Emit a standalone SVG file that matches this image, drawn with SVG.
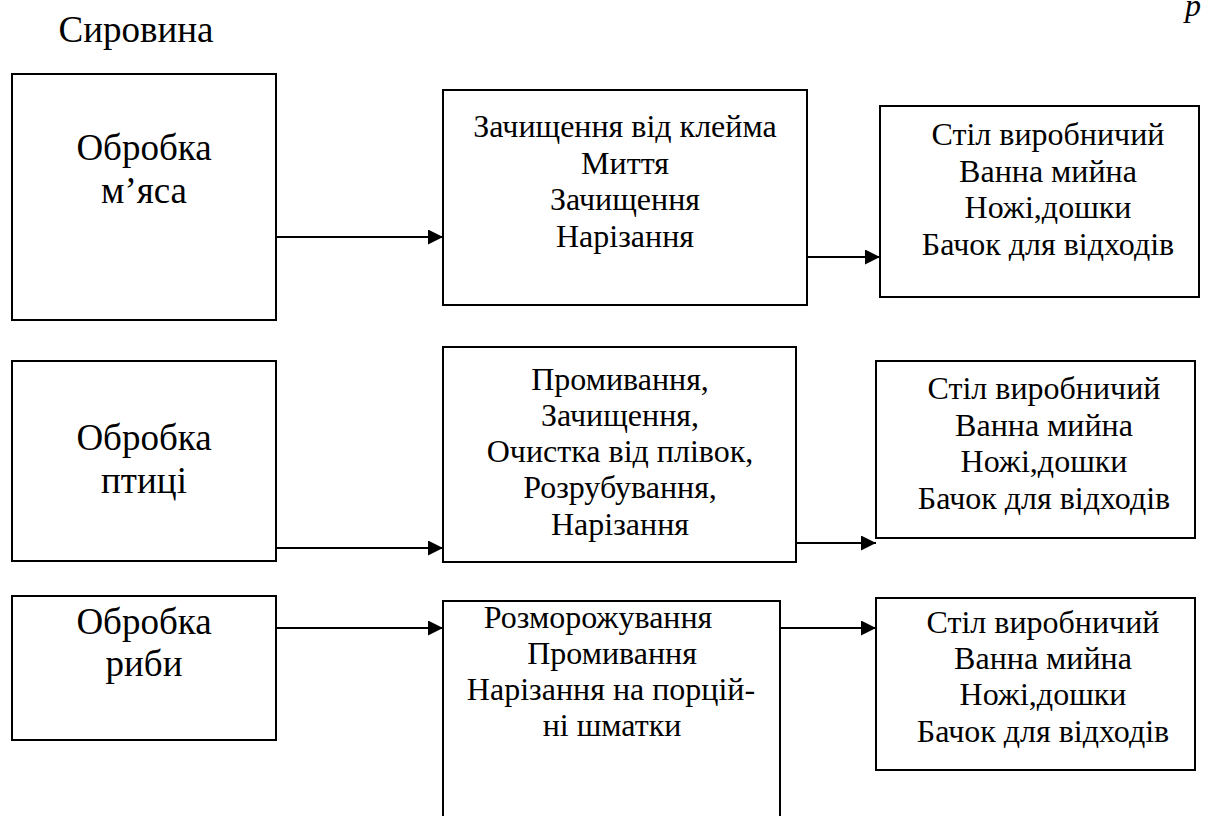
<svg xmlns="http://www.w3.org/2000/svg" width="1216" height="816" viewBox="0 0 1216 816">
  <style>
    .box { fill: #ffffff; stroke: #000000; stroke-width: 2; }
    .t { font-family: "Liberation Serif", "Times New Roman", serif; fill: #000000; text-anchor: middle; }
    .big { font-size: 37px; }
    .sm { font-size: 32px; }
    .wire { stroke: #000000; stroke-width: 2; fill: none; marker-end: url(#arrow); }
  </style>
  <defs>
    <marker id="arrow" markerUnits="userSpaceOnUse" markerWidth="15" markerHeight="15" refX="15" refY="7.5" orient="auto">
      <path d="M0,0 L15,7.5 L0,15 Z" fill="#000000"/>
    </marker>
  </defs>

  <rect width="1216" height="816" fill="#ffffff"/>

  <!-- page header fragment -->
  <text x="1193" y="16" class="t" font-size="32" font-style="italic">р</text>

  <!-- heading -->
  <text x="136" y="42" class="t big">Сировина</text>

  <!-- row 1: meat -->
  <g id="meat">
    <rect x="12" y="74" width="264" height="246" class="box"/>
    <text x="144" y="160" class="t big">Обробка</text>
    <text x="144" y="203" class="t big">м’яса</text>
  </g>
  <g id="meat-ops">
    <rect x="443" y="90" width="364" height="215" class="box"/>
    <text x="625" y="137" class="t sm">Зачищення від клейма</text>
    <text x="625" y="174" class="t sm">Миття</text>
    <text x="625" y="210" class="t sm">Зачищення</text>
    <text x="625" y="247" class="t sm">Нарізання</text>
  </g>
  <g id="meat-tools">
    <rect x="880" y="106" width="319" height="191" class="box"/>
    <text x="1048" y="145" class="t sm">Стіл виробничий</text>
    <text x="1048" y="182" class="t sm">Ванна мийна</text>
    <text x="1048" y="218" class="t sm">Ножі,дошки</text>
    <text x="1048" y="255" class="t sm">Бачок для відходів</text>
  </g>

  <!-- row 2: poultry -->
  <g id="poultry">
    <rect x="12" y="361" width="264" height="200" class="box"/>
    <text x="144" y="450" class="t big">Обробка</text>
    <text x="144" y="493" class="t big">птиці</text>
  </g>
  <g id="poultry-ops">
    <rect x="443" y="347" width="353" height="215" class="box"/>
    <text x="620" y="390" class="t sm">Промивання,</text>
    <text x="620" y="426" class="t sm">Зачищення,</text>
    <text x="620" y="462" class="t sm">Очистка від плівок,</text>
    <text x="620" y="498" class="t sm">Розрубування,</text>
    <text x="620" y="535" class="t sm">Нарізання</text>
  </g>
  <g id="poultry-tools">
    <rect x="876" y="361" width="319" height="177" class="box"/>
    <text x="1044" y="399" class="t sm">Стіл виробничий</text>
    <text x="1044" y="436" class="t sm">Ванна мийна</text>
    <text x="1044" y="472" class="t sm">Ножі,дошки</text>
    <text x="1044" y="509" class="t sm">Бачок для відходів</text>
  </g>

  <!-- row 3: fish -->
  <g id="fish">
    <rect x="12" y="596" width="264" height="144" class="box"/>
    <text x="144" y="634" class="t big">Обробка</text>
    <text x="144" y="676" class="t big">риби</text>
  </g>
  <g id="fish-ops">
    <rect x="443" y="601" width="337" height="240" class="box"/>
    <text x="598" y="628" class="t sm">Розморожування</text>
    <text x="612" y="664" class="t sm">Промивання</text>
    <text x="611" y="700" class="t sm">Нарізання на порцій-</text>
    <text x="612" y="736" class="t sm">ні шматки</text>
  </g>
  <g id="fish-tools">
    <rect x="876" y="598" width="319" height="172" class="box"/>
    <text x="1043" y="633" class="t sm">Стіл виробничий</text>
    <text x="1043" y="669" class="t sm">Ванна мийна</text>
    <text x="1043" y="705" class="t sm">Ножі,дошки</text>
    <text x="1043" y="742" class="t sm">Бачок для відходів</text>
  </g>

  <!-- connectors -->
  <g id="connectors">
    <line x1="276" y1="237" x2="443" y2="237" class="wire"/>
    <line x1="807" y1="257" x2="880" y2="257" class="wire"/>
    <line x1="276" y1="548" x2="443" y2="548" class="wire"/>
    <line x1="796" y1="543" x2="876" y2="543" class="wire"/>
    <line x1="276" y1="628" x2="443" y2="628" class="wire"/>
    <line x1="780" y1="628" x2="876" y2="628" class="wire"/>
  </g>
</svg>
